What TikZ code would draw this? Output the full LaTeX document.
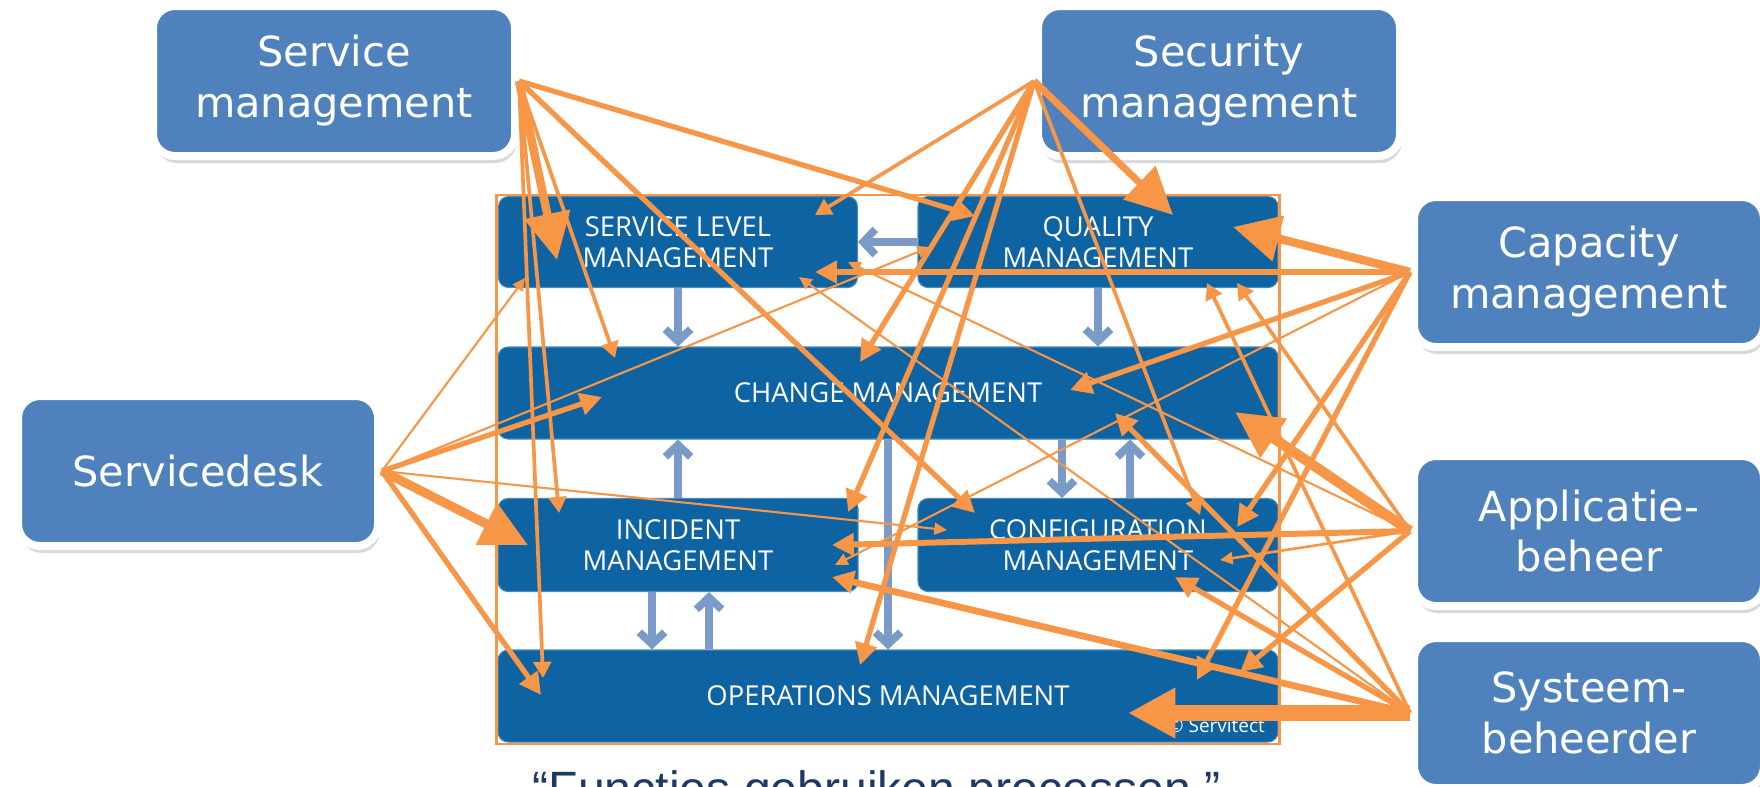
\documentclass[tikz,border=0pt]{standalone}
\usepackage{fontspec}
\usepackage{tikz}
\usetikzlibrary{positioning, calc, fit, shadows, arrows.meta}
\newfontfamily\boxfont{DejaVu Sans}
\newfontfamily\procfont{Open Sans}
\newfontfamily\capfont{Liberation Sans}
\definecolor{boxblue}{RGB}{79,129,189}
\definecolor{procblue}{RGB}{14,99,162}
\definecolor{flowblue}{RGB}{122,155,200}
\definecolor{orangeline}{RGB}{247,150,70}
\definecolor{captionblue}{RGB}{31,56,100}

\begin{document}
\begin{tikzpicture}[x=0.1mm, y=-0.1mm]
\path[use as bounding box, fill=white] (0,0) rectangle (1760,786);
%% styles
\tikzstyle{proc}=[rectangle, rounded corners=1mm, fill=procblue, draw=procblue!75!white, line width=0.3pt, inner sep=0pt, text=white, align=center, font=\procfont\fontsize{7.8}{8.9}\selectfont]
\tikzstyle{func}=[rectangle, rounded corners=2.2mm, fill=boxblue, draw=white, line width=0.8mm, minimum height=15mm, inner sep=0pt, text=white, align=center, font=\boxfont\fontsize{11.8}{14.5}\selectfont, drop shadow={shadow xshift=0.2mm, shadow yshift=-0.7mm, opacity=0.3}]
\tikzstyle{flow}=[draw=flowblue, line width=2.2pt, -{Straight Barb[length=3.4pt, width=7.2pt]}]
\tikzstyle{arrthin}=[draw=orangeline, line width=0.6pt, -{Triangle[length=3.6pt, width=3.4pt]}]
\tikzstyle{arrmed}=[draw=orangeline, line width=1.05pt, -{Triangle[length=4.6pt, width=5pt]}]
\tikzstyle{arrthick}=[draw=orangeline, line width=1.5pt, -{Triangle[length=6.2pt, width=6.2pt]}]
\tikzstyle{arrhuge}=[draw=orangeline, line width=2.4pt, -{Triangle[length=13.3pt, width=12.8pt]}]
%%
%% processes (Servitect model)
\node (slm) at (678,242) [proc, minimum width=35.9mm, minimum height=9.1mm] {SERVICE LEVEL\\MANAGEMENT};
\node (qm) at (1098,242) [proc, minimum width=36mm, minimum height=9.1mm] {QUALITY\\MANAGEMENT};
\node (chm) at (888,393) [proc, minimum width=78mm, minimum height=9.2mm] {CHANGE MANAGEMENT};
\node (inm) at (678,545) [proc, minimum width=36mm, minimum height=9.3mm] {INCIDENT\\MANAGEMENT};
\node (cfm) at (1098,545) [proc, minimum width=36mm, minimum height=9.3mm] {CONFIGURATION\\MANAGEMENT};
\node (opm) at (888,696) [proc, minimum width=78mm, minimum height=9.2mm] {OPERATIONS MANAGEMENT};
\node [above left=0.9mm and 1.3mm of opm.south east, inner sep=0pt, text=white, font=\procfont\fontsize{5.4}{6}\selectfont](cpr) {© Servitect};

\draw [flow] (qm.west) -- (slm.east);
\draw [flow] (slm.south) -- (slm.south |- chm.north);
\draw [flow] (qm.south) -- (qm.south |- chm.north);
\draw [flow] (inm.north) -- (inm.north |- chm.south);
\draw [flow] ($(chm.south)+(174,0)$) -- ($(cfm.north)+(-36,0)$);
\draw [flow] ($(cfm.north)+(32,0)$) -- ($(chm.south)+(242,0)$);
\draw [flow] ($(inm.south)+(-26,0)$) -- ($(opm.north)+(-236,0)$);
\draw [flow] ($(opm.north)+(-179,0)$) -- ($(inm.south)+(31,0)$);
\draw [flow] (chm.south) -- (opm.north);

\node (frame) [draw=orangeline, line width=0.6pt, fit=(slm)(qm)(opm), inner sep=0.1mm] {};

%% functions
\node (sm) at (334,81) [func, minimum width=36.2mm] {Service\\management};
\node (secm) at (1219,81) [func, minimum width=36.2mm] {Security\\management};
\node (capm) at (1589,272) [func, minimum width=35mm] {Capacity\\management};
\node (sd) at (198,471) [func, minimum width=36mm] {Servicedesk};
\node (ab) at (1589,531) [func, minimum width=35mm] {Applicatie-\\beheer};
\node (sb) at (1589,713) [func, minimum width=35mm] {Systeem-\\beheerder};

%% service management
\draw [arrhuge] (sm.east) -- ($(slm)+(-121,18)$);
\draw [arrmed] (sm.east) -- ($(chm)+(-273,-35)$);
\draw [arrthick] (sm.east) -- ($(cfm)+(-123,-32)$);
\draw [arrthick] (sm.east) -- ($(qm)+(-123,-26)$);
\draw [arrmed] (sm.east) -- ($(inm)+(-119,-32)$);
\draw [arrmed] (sm.east) -- ($(opm)+(-345,-18)$);
%% security management
\draw [arrhuge, line width=2pt] (secm.west) -- ($(qm)+(75,-27)$);
\draw [arrmed] (secm.west) -- ($(slm)+(137,-27)$);
\draw [arrthick] (secm.west) -- ($(chm)+(-28,-31)$);
\draw [arrthick] (secm.west) -- ($(inm)+(170,-33)$);
\draw [arrthick] (secm.west) -- ($(opm)+(-28,-31)$);
\draw [arrmed] (secm.west) -- ($(cfm)+(102,-30)$);
%% servicedesk
\draw [arrthin] (sd.east) -- ($(slm)+(-153,36)$);
\draw [arrthin] (sd.east) -- ($(qm)+(-168,5)$);
\draw [arrthick] (sd.east) -- ($(chm)+(-286,4)$);
\draw [arrhuge, line width=2.6pt] (sd.east) -- ($(inm)+(-150,0)$);
\draw [arrthin] (sd.east) -- ($(cfm)+(-151,-15)$);
\draw [arrthick] (sd.east) -- ($(opm)+(-347,-1)$);
%% capacity management
\draw [arrhuge] (capm.west) -- ($(qm)+(135,-15)$);
\draw [arrthick] (capm.west) -- ($(slm)+(137,30)$);
\draw [arrthick] (capm.west) -- ($(chm)+(182,-3)$);
\draw [arrthin] (capm.west) -- ($(inm)+(157,20)$);
\draw [arrthick] (capm.west) -- ($(cfm)+(139,-18)$);
\draw [arrthick] (capm.west) -- ($(opm)+(309,-16)$);
%% applicatiebeheer
\draw [arrmed] (ab.west) -- ($(qm)+(139,41)$);
\draw [arrthin] (ab.west) -- ($(slm)+(170,20)$);
\draw [arrhuge, line width=2.9pt] (ab.west) -- ($(chm)+(347,19)$);
\draw [arrthick, line width=1.7pt] (ab.west) -- ($(inm)+(154,0)$);
\draw [arrthin, line width=0.75pt] (ab.west) -- ($(cfm)+(122,15)$);
\draw [arrthick] (ab.west) -- ($(opm)+(352,-24)$);
%% systeembeheerder
\draw [arrhuge, line width=4.5pt, -{Triangle[length=13.5pt, width=13.5pt]}] (sb.west) -- ($(opm)+(240,17)$);
\draw [arrthick, line width=1.9pt] (sb.west) -- ($(inm)+(154,32)$);
\draw [arrthick] (sb.west) -- ($(cfm)+(77,32)$);
\draw [arrthick] (sb.west) -- ($(chm)+(227,20)$);
\draw [arrthin] (sb.west) -- ($(slm)+(121,35)$);
\draw [arrmed] (sb.west) -- ($(qm)+(109,41)$);

\node (cap) at (532,805) [anchor=base west, inner sep=0pt, text=captionblue, font=\capfont\fontsize{13.7}{16}\selectfont] {“Functies gebruiken processen.”};
\end{tikzpicture}
\end{document}
